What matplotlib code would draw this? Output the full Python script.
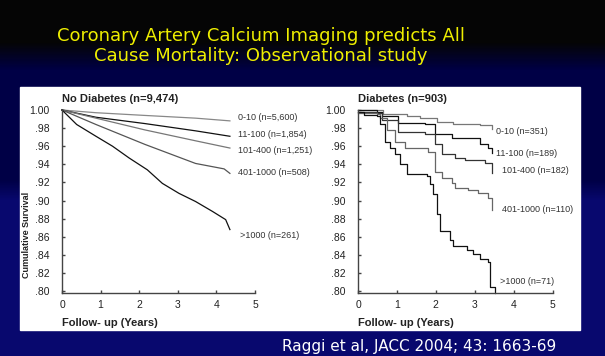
import numpy as np
import matplotlib
matplotlib.use('Agg')
import matplotlib.pyplot as plt
from matplotlib.patches import Rectangle

plt.rcParams['font.family'] = ['Liberation Sans', 'DejaVu Sans']

# tick values / labels
years = [0, 1, 2, 3, 4, 5]
surv_ticks = [0.80, 0.82, 0.84, 0.86, 0.88, 0.90, 0.92, 0.94, 0.96, 0.98, 1.00]
surv_tick_labels = ['.80', '.82', '.84', '.86', '.88', '.90', '.92', '.94', '.96', '.98', '1.00']

# no diabetes (n=9,474)
nd_labels = ['0-10 (n=5,600)', '11-100 (n=1,854)', '101-400 (n=1,251)',
             '401-1000 (n=508)', '>1000 (n=261)']
nd_0_10_x = [0, 0.88, 2.15, 3.46, 4.35]
nd_0_10_y = [1.0, 0.997, 0.994, 0.991, 0.988]
nd_11_100_x = [0, 0.88, 2.15, 3.46, 4.35]
nd_11_100_y = [1.0, 0.992, 0.985, 0.977, 0.971]
nd_101_400_x = [0, 0.88, 2.15, 3.46, 4.35]
nd_101_400_y = [1.0, 0.991, 0.978, 0.966, 0.958]
nd_401_1000_x = [0, 0.88, 2.15, 3.46, 4.2, 4.35]
nd_401_1000_y = [1.0, 0.984, 0.962, 0.941, 0.935, 0.930]
nd_gt1000_x = [0, 0.38, 0.88, 1.31, 1.74, 2.21, 2.6, 3.03, 3.46, 3.9, 4.24, 4.35]
nd_gt1000_y = [1.0, 0.984, 0.971, 0.960, 0.947, 0.934, 0.919, 0.908, 0.899, 0.888, 0.879, 0.868]

# diabetes (n=903)
d_labels = ['0-10 (n=351)', '11-100 (n=189)', '101-400 (n=182)',
            '401-1000 (n=110)', '>1000 (n=71)']
d_0_10_x = [0, 0.52, 0.65, 1.25, 1.59, 2.02, 2.44, 2.95, 3.13, 3.44]
d_0_10_y = [1.0, 1.0, 0.996, 0.993, 0.991, 0.987, 0.985, 0.984, 0.983, 0.979]
d_11_100_x = [0, 0.5, 0.61, 1.04, 1.72, 1.98, 2.41, 3.14, 3.35, 3.44]
d_11_100_y = [1.0, 0.998, 0.993, 0.986, 0.984, 0.973, 0.969, 0.962, 0.958, 0.952]
d_101_400_x = [0, 0.5, 0.61, 1.04, 1.72, 1.98, 2.15, 2.49, 2.75, 3.26, 3.44]
d_101_400_y = [0.998, 0.997, 0.989, 0.976, 0.974, 0.962, 0.951, 0.947, 0.945, 0.941, 0.930]
d_401_1000_x = [0, 0.5, 0.57, 0.75, 0.95, 1.21, 1.81, 1.98, 2.15, 2.41, 2.49, 2.84, 3.09, 3.35, 3.44]
d_401_1000_y = [0.997, 0.996, 0.991, 0.978, 0.965, 0.958, 0.954, 0.932, 0.925, 0.919, 0.914,
                0.912, 0.908, 0.903, 0.890]
d_gt1000_x = [0, 0.15, 0.5, 0.57, 0.69, 0.82, 0.95, 1.08, 1.25, 1.77, 1.85, 1.94, 2.02, 2.11,
              2.37, 2.45, 2.79, 2.96, 3.13, 3.35, 3.39, 3.52]
d_gt1000_y = [0.998, 0.994, 0.993, 0.985, 0.965, 0.958, 0.951, 0.940, 0.929, 0.927, 0.918,
              0.907, 0.885, 0.866, 0.857, 0.850, 0.846, 0.841, 0.835, 0.832, 0.805, 0.798]

W, H = 605, 356
fig = plt.figure(figsize=(W / 100, H / 100), dpi=100)

# slide background
bg = fig.add_axes([0, 0, 1, 1], zorder=-10)
top = np.array([5, 5, 5]) / 255
navy_dark = np.array([0, 0, 70]) / 255
navy = np.array([8, 8, 110]) / 255
img = np.zeros((H, W, 3))
for r in range(H):
    if r < 42:
        c = top
    elif r < 70:
        t = (r - 42) / 28
        c = top * (1 - t) + navy_dark * t
    elif r < 180:
        c = navy_dark
    elif r < 200:
        t = (r - 180) / 20
        c = navy_dark * (1 - t) + navy * t
    else:
        c = navy
    img[r, :, :] = c
bg.imshow(img, extent=[0, W, H, 0], aspect='auto', interpolation='bilinear')
bg.set_xlim(0, W)
bg.set_ylim(H, 0)
bg.axis('off')
bg.add_patch(Rectangle((20, 87), 560, 243, color='white'))

bg.text(261, 46, 'Coronary Artery Calcium Imaging predicts All\nCause Mortality: Observational study',
        color='#eeee00', fontsize=13, family='DejaVu Sans', ha='center', va='center',
        linespacing=1.2)
bg.text(556, 347, 'Raggi et al, JACC 2004; 43: 1663-69', color='white', fontsize=11,
        family='DejaVu Sans', ha='right', va='center')


def setup(ax, title):
    ax.set_xlim(0, 5)
    ax.set_ylim(0.798, 1.0)
    ax.set_xticks(years)
    ax.set_yticks(surv_ticks)
    ax.set_yticklabels(surv_tick_labels)
    for s in ['top', 'right']:
        ax.spines[s].set_visible(False)
    for s in ['left', 'bottom']:
        ax.spines[s].set_color('#444444')
        ax.spines[s].set_linewidth(1.0)
    ax.tick_params(direction='in', length=2, width=1, colors='#444444',
                   labelcolor='#222222', labelsize=7.5, pad=9)
    ax.tick_params(axis='x', labelsize=7.5, pad=5)
    ax.set_title(title, loc='left', fontsize=8, fontweight='bold', color='#222222', pad=6)
    ax.set_facecolor('none')


ax1 = fig.add_axes([62 / W, 1 - 293 / H, 193 / W, 183 / H])
setup(ax1, 'No Diabetes (n=9,474)')
ax2 = fig.add_axes([358 / W, 1 - 293 / H, 194.5 / W, 183 / H])
setup(ax2, 'Diabetes (n=903)')

nd_series = [(nd_0_10_x, nd_0_10_y), (nd_11_100_x, nd_11_100_y), (nd_101_400_x, nd_101_400_y),
             (nd_401_1000_x, nd_401_1000_y), (nd_gt1000_x, nd_gt1000_y)]
d_series = [(d_0_10_x, d_0_10_y), (d_11_100_x, d_11_100_y), (d_101_400_x, d_101_400_y),
            (d_401_1000_x, d_401_1000_y), (d_gt1000_x, d_gt1000_y)]
nd_colors = ['#888888', '#111111', '#777777', '#555555', '#111111']
d_colors = ['#777777', '#111111', '#333333', '#666666', '#111111']

for (x, y), c in zip(nd_series, nd_colors):
    ax1.plot(x, y, color=c, lw=0.9, clip_on=False)
for (x, y), c in zip(d_series, d_colors):
    ax2.plot(x, y, color=c, lw=0.9, drawstyle='steps-post', clip_on=False)

nd_label_pos = [(4.56, 0.9912), (4.56, 0.9725), (4.56, 0.955), (4.56, 0.931), (4.6, 0.862)]
d_label_pos = [(3.56, 0.976), (3.56, 0.952), (3.69, 0.933), (3.69, 0.890), (3.65, 0.811)]
for lab, (px, py) in zip(nd_labels, nd_label_pos):
    ax1.text(px, py, lab, fontsize=6.5, color='#333333', va='center', ha='left', clip_on=False)
for lab, (px, py) in zip(d_labels, d_label_pos):
    ax2.text(px, py, lab, fontsize=6.5, color='#333333', va='center', ha='left', clip_on=False)

fig.text(27 / W, 1 - 235 / H, 'Cumulative Survival', rotation=90, fontsize=6.5,
         fontweight='bold', color='#222222', ha='center', va='center')
fig.text(62 / W, 1 - 323 / H, 'Follow- up (Years)', fontsize=8, fontweight='bold',
         color='#222222', ha='left', va='center')
fig.text(358 / W, 1 - 323 / H, 'Follow- up (Years)', fontsize=8, fontweight='bold',
         color='#222222', ha='left', va='center')

fig.savefig('out.png', dpi=100)
